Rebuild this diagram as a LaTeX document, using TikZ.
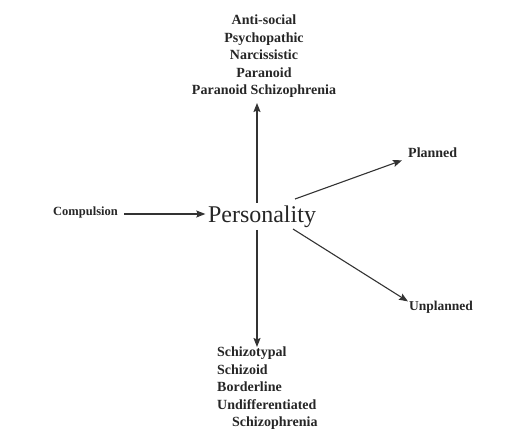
\documentclass[tikz,border=0pt]{standalone}
\usepackage{fontspec}
\setmainfont{Liberation Serif}
\usetikzlibrary{arrows.meta}
\tikzset{
  label/.style={font=\bfseries\fontsize{14}{17.5}\selectfont, text=black!85, inner sep=0pt},
  link/.style={-{Stealth[length=9pt,width=7pt,inset=1.5pt]}, line width=1.1pt, draw=black!80}
}
\begin{document}
\begin{tikzpicture}[x=1pt,y=-1pt]
      \useasboundingbox (0,0) rectangle (508,442);
      \draw
        (262,222) node[anchor=base, font=\fontsize{24}{28}\selectfont, text=black!85, inner sep=2.5pt] (pers){Personality}
        (53,215) node[label, anchor=base west, font=\bfseries\fontsize{12.5}{15}\selectfont] (comp){Compulsion}
        (264,98) node[label, anchor=south, align=center] (traits){Anti-social\\Psychopathic\\Narcissistic\\Paranoid\\Paranoid Schizophrenia}
        (217,347) node[label, anchor=north west, align=left] (schiz){Schizotypal\\Schizoid\\Borderline\\Undifferentiated\\\hspace{15pt}Schizophrenia}
        (408,157) node[label, anchor=base west] (plan){Planned}
        (409,310) node[label, anchor=base west, font=\bfseries\fontsize{13.5}{17}\selectfont] (unplan){Unplanned};
      \coordinate (up) at (257,103);
      \coordinate (down) at (257,347);
      \coordinate (ne) at (295,199);
      \coordinate (se) at (293,229);
      \begin{scope}[link]
        \draw ([xshift=6pt,yshift=-2pt]comp.east) to ([yshift=-2pt]comp.east -| pers.west);
        \draw (pers.north -| up) to (up);
        \draw (pers.south -| down) to (down);
        \draw (ne) to ([xshift=-6pt,yshift=-3pt]plan.south west);
        \draw (se) to ([xshift=-1pt,yshift=-1pt]unplan.north west);
      \end{scope}
    \end{tikzpicture}
\end{document}
